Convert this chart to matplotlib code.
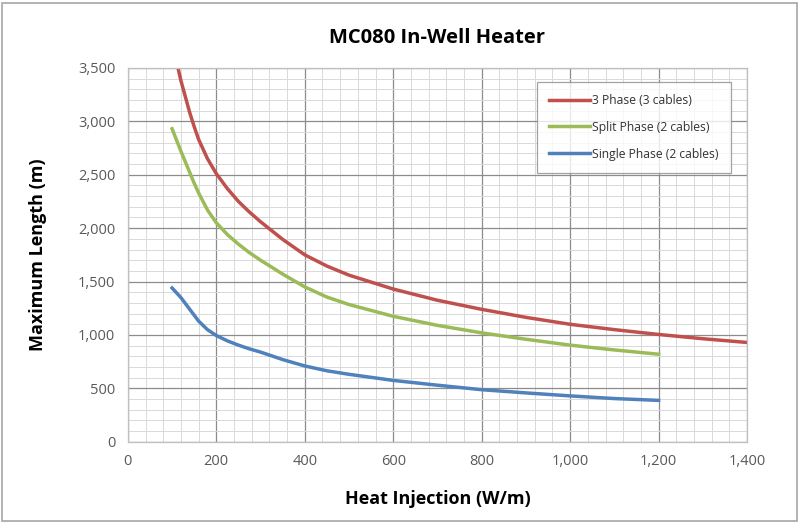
import matplotlib
matplotlib.use("Agg")
import matplotlib.pyplot as plt
from matplotlib.ticker import MultipleLocator, FuncFormatter
from matplotlib.patches import Rectangle

# heat injection (W/m) and maximum length (m)
x_3ph = [100, 110, 120, 140, 150, 160, 180, 200, 225, 250, 275, 300, 350,
         400, 450, 500, 600, 700, 800, 900, 1000, 1100, 1200, 1300, 1400]
y_3ph = [3750, 3560, 3380, 3080, 2950, 2830, 2650, 2510, 2370, 2250, 2150,
         2060, 1895, 1750, 1645, 1560, 1430, 1325, 1240, 1165, 1100, 1050,
         1005, 965, 930]

x_2ph = [100, 120, 140, 150, 160, 180, 200, 225, 250, 275, 300, 350, 400,
         450, 500, 600, 700, 800, 900, 1000, 1100, 1200]
y_split = [2930, 2720, 2520, 2420, 2330, 2170, 2050, 1940, 1850, 1770, 1700,
           1570, 1450, 1355, 1285, 1175, 1090, 1020, 960, 905, 860, 820]
y_single = [1440, 1350, 1240, 1185, 1130, 1050, 995, 945, 905, 870, 840,
            770, 710, 665, 632, 575, 530, 488, 458, 430, 405, 388]

labels = ["3 Phase (3 cables)", "Split Phase (2 cables)", "Single Phase (2 cables)"]

plt.rcParams['font.family'] = ['Open Sans', 'DejaVu Sans']

fig = plt.figure(figsize=(7.99, 5.26), dpi=100)
ax = fig.add_axes([0.160, 0.160, 0.775, 0.711])

ax.plot(x_3ph, y_3ph, color="#C0504D", lw=2.5, label=labels[0])
ax.plot(x_2ph, y_split, color="#9BBB59", lw=2.5, label=labels[1])
ax.plot(x_2ph, y_single, color="#4F81BD", lw=2.5, label=labels[2])

ax.set_xlim(0, 1400)
ax.set_ylim(0, 3500)
ax.xaxis.set_major_locator(MultipleLocator(200))
ax.xaxis.set_minor_locator(MultipleLocator(40))
ax.yaxis.set_major_locator(MultipleLocator(500))
ax.yaxis.set_minor_locator(MultipleLocator(100))
fmt = FuncFormatter(lambda v, p: f"{int(v):,}")
ax.xaxis.set_major_formatter(fmt)
ax.yaxis.set_major_formatter(fmt)

ax.grid(which="major", color="#8c8c8c", lw=0.9)
ax.grid(which="minor", color="#d9d9d9", lw=0.7)
ax.set_axisbelow(True)
for s in ax.spines.values():
    s.set_color("#bfbfbf")
    s.set_linewidth(0.9)
ax.tick_params(which="both", length=0, colors="#595959", labelsize=10.5, pad=9)

ax.set_xlabel("Heat Injection (W/m)", fontsize=13, fontweight="bold", labelpad=15)
ax.set_ylabel("Maximum Length (m)", fontsize=13, fontweight="bold", labelpad=22)
ax.set_title("MC080 In-Well Heater", fontsize=14.5, fontweight="bold", pad=18)

leg = ax.legend(loc="upper right", bbox_to_anchor=(0.974, 0.963), borderaxespad=0,
                fontsize=8.7, frameon=True, fancybox=False, borderpad=1.0,
                labelspacing=1.15, handlelength=3.4, handletextpad=0.2)
leg.get_frame().set_edgecolor("#8c8c8c")
leg.get_frame().set_linewidth(0.9)
for t in leg.get_texts():
    t.set_color("#333333")

fig.patches.append(Rectangle((0.003, 0.01), 0.994, 0.985, transform=fig.transFigure,
                             fill=False, edgecolor="#a6a6a6", lw=1.2))

fig.savefig("out.png", dpi=100)
